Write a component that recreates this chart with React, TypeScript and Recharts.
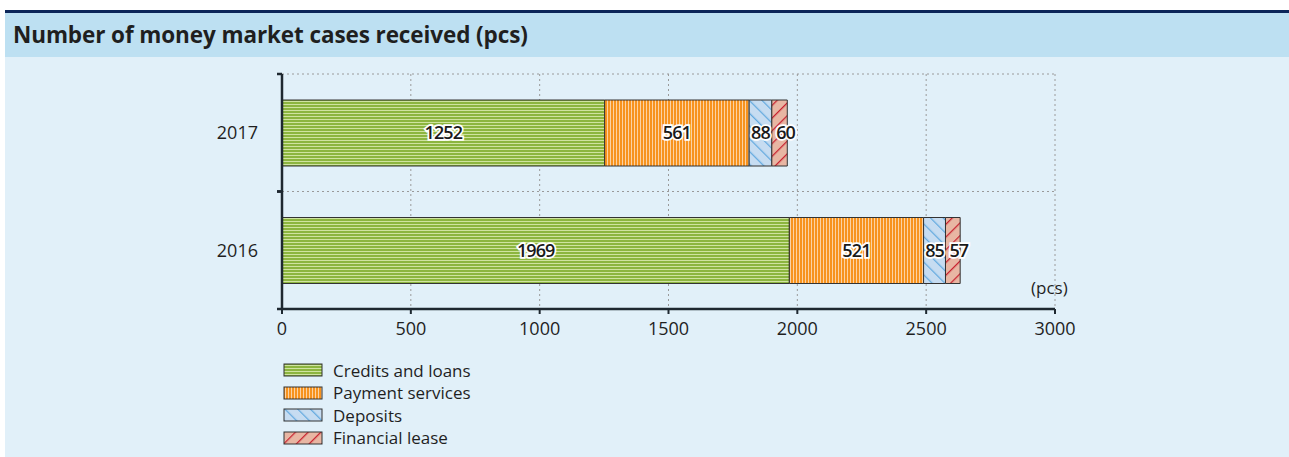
import { BarChart, Bar, XAxis, YAxis, CartesianGrid, LabelList } from 'recharts'

const years = ['2017', '2016']
const creditsAndLoans = [1252, 1969]
const paymentServices = [561, 521]
const deposits = [88, 85]
const financialLease = [60, 57]
const xTicks = [0, 500, 1000, 1500, 2000, 2500, 3000]

const seriesNames = ['Credits and loans', 'Payment services', 'Deposits', 'Financial lease']
const seriesKeys = ['credits', 'payment', 'deposits', 'lease']
const patternIds = ['pat-green', 'pat-orange', 'pat-blue', 'pat-red']
// small nudge so the last two labels don't collide
const labelDx = [0, 0, 0, 6]

const rows = years.map((year, i) => ({
  year,
  credits: creditsAndLoans[i],
  payment: paymentServices[i],
  deposits: deposits[i],
  lease: financialLease[i],
}))

const FONT = '"Open Sans", "DejaVu Sans", sans-serif'
const INK = '#1f1f1f'
const AXIS = '#1e2830'

function Patterns() {
  return (
    <defs>
      <pattern id="pat-green" width="4" height="3" patternUnits="userSpaceOnUse">
        <rect width="4" height="3" fill="#cfe3a0" />
        <rect width="4" height="2" fill="#8cb53f" />
      </pattern>
      <pattern id="pat-orange" width="3" height="4" patternUnits="userSpaceOnUse">
        <rect width="3" height="4" fill="#fcd2a3" />
        <rect width="2" height="4" fill="#f7931e" />
      </pattern>
      <pattern id="pat-blue" width="9" height="9" patternUnits="userSpaceOnUse" patternTransform="rotate(-45)">
        <rect width="9" height="9" fill="#c6dcf1" />
        <line x1="0" y1="0" x2="0" y2="9" stroke="#62a9df" strokeWidth="2.5" />
      </pattern>
      <pattern id="pat-red" width="9" height="9" patternUnits="userSpaceOnUse" patternTransform="rotate(45)">
        <rect width="9" height="9" fill="#e8b6a3" />
        <line x1="0" y1="0" x2="0" y2="9" stroke="#c8212f" strokeWidth="2.5" />
      </pattern>
    </defs>
  )
}

// category label plus the small tick marks that sit on band edges
function YearTick(props: any) {
  const { x, y, payload } = props
  const half = payload.offset || 0
  return (
    <g>
      <line x1={x - 5} x2={x} y1={y - half} y2={y - half} stroke={AXIS} strokeWidth={2.5} />
      <line x1={x - 5} x2={x} y1={y + half} y2={y + half} stroke={AXIS} strokeWidth={2.5} />
      <text x={x - 24} y={y} dy="0.35em" textAnchor="end" fill={INK} fontSize={18} fontFamily={FONT}>
        {payload.value}
      </text>
    </g>
  )
}

export default function App() {
  return (
    <div style={{ position: 'absolute', left: 0, top: 0, width: 1289, height: 457, fontFamily: FONT }}>
      <div style={{ position: 'absolute', left: 5, top: 10, width: 1284, height: 3, background: '#0c2659' }} />
      <div style={{ position: 'absolute', left: 5, top: 13, width: 1284, height: 44, background: '#bde0f2' }}>
        <div style={{ position: 'absolute', left: 8, top: 0, lineHeight: '44px', fontSize: 22.5, fontWeight: 700, color: INK, letterSpacing: -0.1 }}>
          Number of money market cases received (pcs)
        </div>
      </div>
      <div style={{ position: 'absolute', left: 5, top: 57, width: 1284, height: 400, background: '#e1f0f9' }}>
        <BarChart
          width={1284}
          height={400}
          data={rows}
          layout="vertical"
          barSize={66}
          margin={{ top: 17, right: 234, left: 217, bottom: 118 }}
        >
          <Patterns />
          <CartesianGrid
            stroke="#9a9a9a"
            strokeDasharray="2 3"
            horizontalCoordinatesGenerator={({ offset }: any) =>
              years.map((_, i) => offset.top + (offset.height / years.length) * i)
            }
          />
          <XAxis
            type="number"
            domain={[0, 3000]}
            ticks={xTicks}
            interval={0}
            axisLine={{ stroke: AXIS, strokeWidth: 2.5 }}
            tickLine={{ stroke: AXIS, strokeWidth: 2 }}
            tickSize={5}
            tickMargin={8}
            height={30}
            tick={{ fill: INK, fontSize: 18, fontFamily: FONT }}
          />
          <YAxis
            type="category"
            dataKey="year"
            width={60}
            axisLine={{ stroke: AXIS, strokeWidth: 2.5 }}
            tickLine={false}
            tickSize={0}
            tickMargin={0}
            tick={<YearTick />}
          />
          {seriesKeys.map((key, i) => (
            <Bar
              key={key}
              dataKey={key}
              stackId="a"
              fill={`url(#${patternIds[i]})`}
              stroke="#333"
              strokeWidth={1}
              isAnimationActive={false}
            >
              <LabelList
                dataKey={key}
                position="center"
                dx={labelDx[i]}
                fill="#1a1a1a"
                stroke="#fff"
                strokeWidth={3.5}
                paintOrder="stroke"
                fontSize={18}
                fontWeight={600}
                letterSpacing={-0.9}
                fontFamily={FONT}
              />
            </Bar>
          ))}
        </BarChart>
        <div style={{ position: 'absolute', left: 1026, top: 219, fontSize: 17, color: INK }}>(pcs)</div>
        <div style={{ position: 'absolute', left: 278, top: 302 }}>
          {seriesNames.map((name, i) => (
            <div key={name} style={{ display: 'flex', alignItems: 'center', height: 22.5 }}>
              <svg width={40} height={14} style={{ marginRight: 10 }}>
                <rect x={1} y={1} width={38} height={12} fill={`url(#${patternIds[i]})`} stroke="#333" strokeWidth={1} />
              </svg>
              <span style={{ fontSize: 17, color: INK }}>{name}</span>
            </div>
          ))}
        </div>
      </div>
    </div>
  )
}
